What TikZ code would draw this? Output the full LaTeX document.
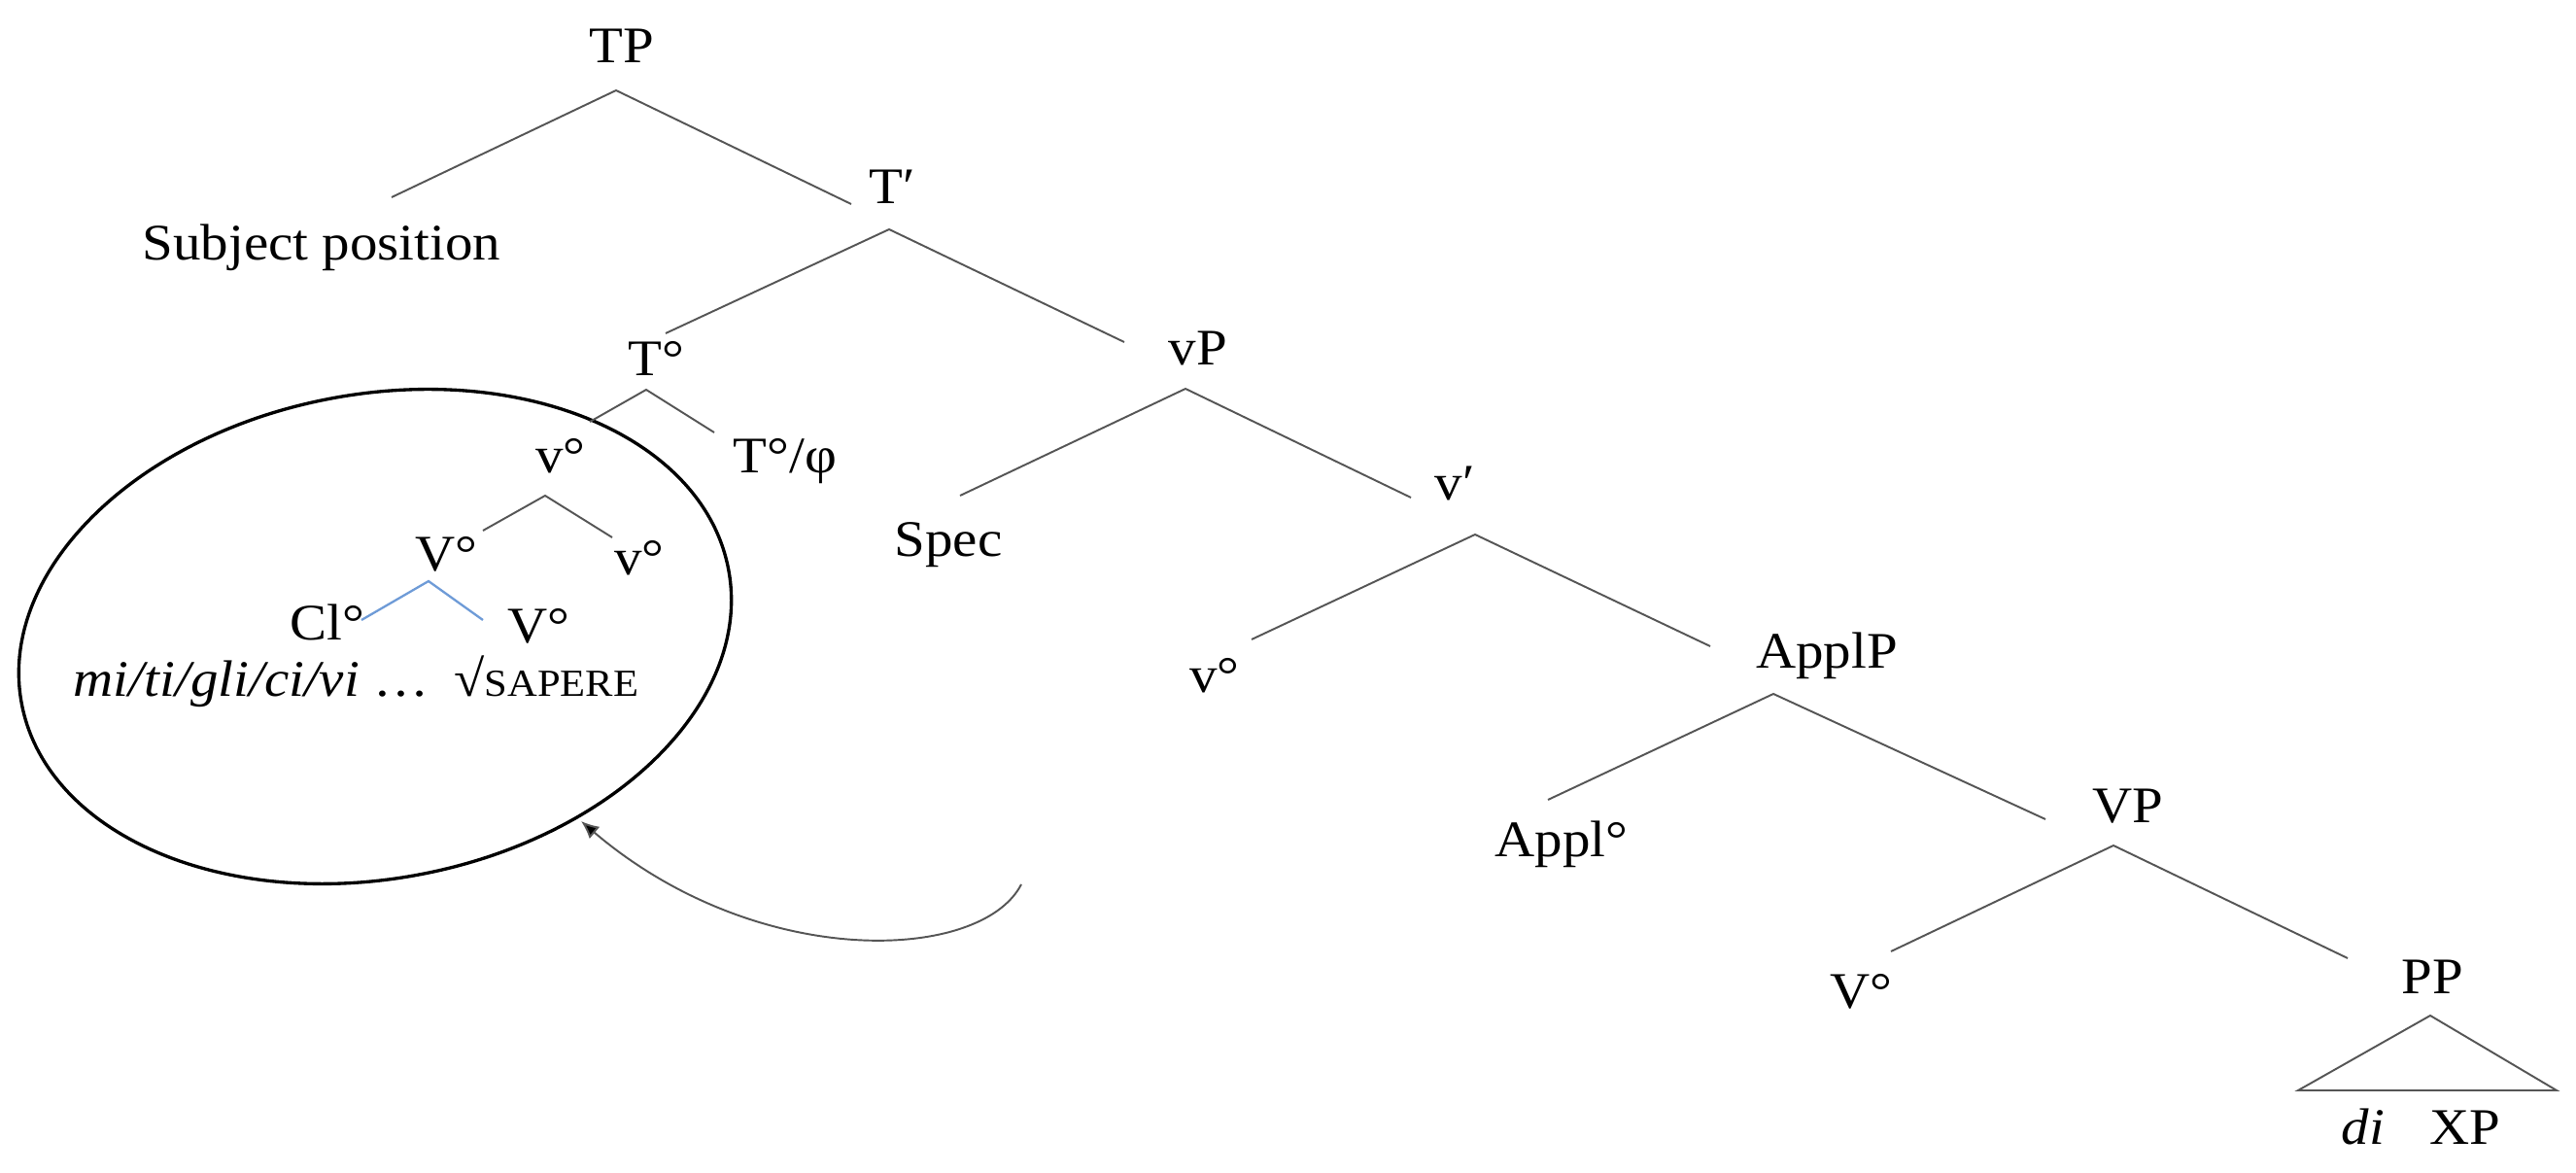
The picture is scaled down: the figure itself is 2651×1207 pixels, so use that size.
\documentclass[tikz,border=0pt]{standalone}
\usepackage{fontspec}
\setmainfont[FakeStretch=1.08]{Liberation Serif}
\usetikzlibrary{shapes.geometric,arrows.meta}
\definecolor{clblue}{RGB}{110,155,215}
\definecolor{branchgray}{RGB}{85,85,85}
\begin{document}
\begin{tikzpicture}[x=0.01cm,y=-0.01cm,
  lbl/.style={inner sep=0pt, anchor=base, font=\fontsize{15pt}{18pt}\selectfont},
  lblw/.style={lbl, anchor=base west},
  branch/.style={draw=branchgray, line width=0.55pt},
  clbranch/.style={draw=clblue, line width=0.65pt},
  bubble/.style={draw=black, ellipse, line width=0.95pt, inner sep=0pt},
  move/.style={draw=branchgray, line width=0.55pt, -{Latex[length=5.2pt,width=4.6pt,fill=black]}}
]
\useasboundingbox (0,0) rectangle (2651,1207);

% labels
\node[lbl] (TP)   at (640,65)   {TP};
\node[lbl] (subj) at (331,268)  {Subject position};
\node[lbl] (Tbar) at (918,210)  {T′};
\node[lbl] (T0)   at (675,387)  {T°};
\node[lbl] (vP)   at (1233,376) {vP};
\node[lbl] (Tphi) at (808,487)  {T°/φ};
\node[lbl] (vhi)  at (577,487)  {v°};
\node[lbl] (Vup)  at (459,588)  {V°};
\node[lbl] (vsm)  at (658,592)  {v°};
\node[lbl] (Cl)   at (337,659)  {Cl°};
\node[lbl] (Vlo)  at (554,662)  {V°};
\node[lblw] (clit) at (75,717)  {\textit{mi/ti/gli/ci/vi} …};
\node[lblw] (root) at (467,717) {√{\fontsize{11.2pt}{14pt}\selectfont SAPERE}};
\node[lbl] (Spec) at (976,573)  {Spec};
\node[lbl] (vbar) at (1497,515) {v′};
\node[lbl] (vlow) at (1250,713) {v°};
\node[lbl] (ApplP) at (1880,688) {ApplP};
\node[lbl] (Appl0) at (1607,882) {Appl°};
\node[lbl] (VP)   at (2190,847) {VP};
\node[lbl] (V0)   at (1915,1038) {V°};
\node[lbl] (PP)   at (2503,1023) {PP};
\node[lbl] (di)   at (2432,1178) {\textit{di}};
\node[lbl] (XP)   at (2537,1178) {XP};

% ellipse
\node[bubble, minimum width=7.4cm, minimum height=4.98cm, rotate=10.8] (circ) at (386,655) {};

% branch points
\coordinate (TPa) at (634,93);   \coordinate (TPl) at (403,203);  \coordinate (TPr) at (876,210);
\coordinate (Tba) at (915,236);  \coordinate (Tbl) at (685,343);  \coordinate (Tbr) at (1157,352);
\coordinate (T0a) at (665,401);  \coordinate (T0l) at (607,434);  \coordinate (T0r) at (735,445);
\coordinate (vha) at (561,510);  \coordinate (vhl) at (497,546);  \coordinate (vhr) at (630,553);
\coordinate (Vua) at (441,598);  \coordinate (Vul) at (372,638);  \coordinate (Vur) at (497,638);
\coordinate (vPa) at (1220,400); \coordinate (vPl) at (988,510);  \coordinate (vPr) at (1452,512);
\coordinate (vba) at (1518,550); \coordinate (vbl) at (1288,658); \coordinate (vbr) at (1760,665);
\coordinate (Apa) at (1825,714); \coordinate (Apl) at (1593,823); \coordinate (Apr) at (2105,843);
\coordinate (VPa) at (2175,870); \coordinate (VPl) at (1946,979); \coordinate (VPr) at (2416,986);
\coordinate (PPa) at (2501,1045); \coordinate (PPl) at (2365,1122); \coordinate (PPr) at (2631,1122);

\draw[branch] (TPl) -- (TPa) -- (TPr);
\draw[branch] (Tbl) -- (Tba) -- (Tbr);
\draw[branch] (T0l) -- (T0a) -- (T0r);
\draw[branch] (vhl) -- (vha) -- (vhr);
\draw[clbranch] (Vul) -- (Vua) -- (Vur);
\draw[branch] (vPl) -- (vPa) -- (vPr);
\draw[branch] (vbl) -- (vba) -- (vbr);
\draw[branch] (Apl) -- (Apa) -- (Apr);
\draw[branch] (VPl) -- (VPa) -- (VPr);
\draw[branch] (PPa) -- (PPl) -- (PPr) -- cycle;

% movement arrow
\coordinate (mvs) at (1051,910);
\coordinate (mvt) at (598,845);
\draw[move] (mvs) .. controls (1010,990) and (780,1000) .. (mvt);
\end{tikzpicture}
\end{document}
